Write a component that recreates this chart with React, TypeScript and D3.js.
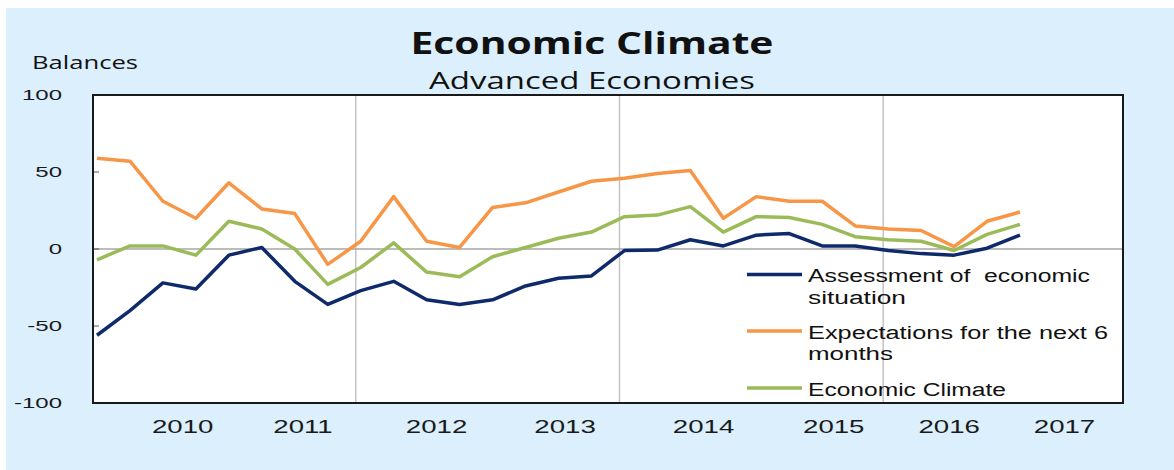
import { useEffect, useRef } from 'react';
import * as d3 from 'd3';

// Quarterly balances, first observation on the left edge of the plot
const assessment = [-56, -40, -22, -26, -4, 1, -21, -36, -27, -21, -33, -36, -33, -24, -19, -17.5, -1, -0.7, 6, 2, 9, 10, 2, 2, -1, -3, -4, 0.5, 9];
const expectations = [59, 57, 31, 20, 43, 26, 23, -10, 5, 34, 5, 1, 27, 30, 37, 44, 46, 49, 51, 20, 34, 31, 31, 15, 13, 12, 1.5, 18, 24];
const climate = [-7, 2, 2, -4, 18, 13, 0, -23, -12, 4, -15, -18, -5, 1, 7, 11, 21, 22, 27.5, 11, 21, 20.5, 16, 8, 6, 5, -1, 9.5, 16];

const yTicks = [100, 50, 0, -50, -100];
const yearLabels = ['2010', '2011', '2012', '2013', '2014', '2015', '2016', '2017'];
// where the year labels sit, in quarters from the first observation
const yearLabelAt = [2.6, 6.25, 10.3, 14.2, 18.4, 22.35, 25.85, 29.35];
// vertical gridlines (every 8 quarters)
const gridAt = [7.85, 15.85, 23.85];

const series = [
  { lines: ['Assessment of  economic', 'situation'], widths: [282, 98], values: assessment, color: '#0f2a6b' },
  { lines: ['Expectations for the next 6', 'months'], widths: [300, 85], values: expectations, color: '#f79646' },
  { lines: ['Economic Climate'], widths: [198], values: climate, color: '#9bbb59' },
];

const W = 1174;
const H = 470;

export default function App() {
  const svgRef = useRef<SVGSVGElement>(null);

  useEffect(() => {
    if (!svgRef.current) return;
    const svg = d3.select(svgRef.current);
    svg.selectAll('*').remove();

    const plot = { left: 93, right: 1123, top: 95, bottom: 403 };

    // background
    svg.append('rect').attr('x', 6).attr('y', 8).attr('width', W - 6).attr('height', H - 8).attr('fill', '#dbeffc');
    svg.append('rect')
      .attr('x', plot.left).attr('y', plot.top)
      .attr('width', plot.right - plot.left).attr('height', plot.bottom - plot.top)
      .attr('fill', '#ffffff');

    const x = d3.scaleLinear().domain([0, assessment.length - 1]).range([97, 1020]);
    const y = d3.scaleLinear().domain([-100, 100]).range([plot.bottom, plot.top]);

    // gridlines
    svg.append('g')
      .selectAll('line')
      .data(gridAt)
      .join('line')
      .attr('x1', (d) => x(d)).attr('x2', (d) => x(d))
      .attr('y1', plot.top).attr('y2', plot.bottom)
      .attr('stroke', '#c4c4c4').attr('stroke-width', 1.5);

    svg.append('line')
      .attr('x1', plot.left).attr('x2', plot.right)
      .attr('y1', y(0)).attr('y2', y(0))
      .attr('stroke', '#a6a6a6').attr('stroke-width', 1.5);

    // inward ticks on the value axis
    svg.append('g')
      .selectAll('line')
      .data(yTicks)
      .join('line')
      .attr('x1', plot.left).attr('x2', plot.left + 6)
      .attr('y1', (d) => y(d)).attr('y2', (d) => y(d))
      .attr('stroke', '#595959').attr('stroke-width', 1);

    // series
    const line = d3.line<number>().x((_, i) => x(i)).y((d) => y(d));
    series.forEach((s) => {
      svg.append('path')
        .datum(s.values)
        .attr('d', line)
        .attr('fill', 'none')
        .attr('stroke', s.color)
        .attr('stroke-width', 3.5)
        .attr('stroke-linejoin', 'round');
    });

    // frame
    svg.append('rect')
      .attr('x', plot.left).attr('y', plot.top)
      .attr('width', plot.right - plot.left).attr('height', plot.bottom - plot.top)
      .attr('fill', 'none').attr('stroke', '#1a1a1a').attr('stroke-width', 2);

    // y labels
    svg.append('g')
      .selectAll('text')
      .data(yTicks)
      .join('text')
      .attr('transform', (d) => `translate(62,${y(d)}) scale(1.6,1)`)
      .attr('dy', '0.36em')
      .attr('text-anchor', 'end')
      .attr('font-family', '"Liberation Sans", Arial, sans-serif')
      .attr('font-size', 15)
      .attr('fill', '#1a1a1a')
      .text((d) => String(d));

    // x labels
    svg.append('g')
      .selectAll('text')
      .data(yearLabels)
      .join('text')
      .attr('transform', (d, i) => `translate(${x(yearLabelAt[i])},433) scale(1.58,1)`)
      .attr('text-anchor', 'middle')
      .attr('font-family', '"Liberation Sans", Arial, sans-serif')
      .attr('font-size', 17.5)
      .attr('fill', '#1a1a1a')
      .text((d) => d);

    // titles
    const txt = (t: string, tx: number, ty: number, size: number, len: number, anchor = 'start', weight = 'normal', family = '"Open Sans", sans-serif') =>
      svg.append('text')
        .attr('x', tx).attr('y', ty)
        .attr('text-anchor', anchor)
        .attr('font-family', family)
        .attr('font-size', size)
        .attr('font-weight', weight)
        .attr('fill', '#111')
        .attr('textLength', len)
        .attr('lengthAdjust', 'spacingAndGlyphs')
        .style('white-space', 'pre')
        .text(t);

    txt('Economic Climate', 592, 54, 29.5, 363, 'middle', 'bold');
    txt('Advanced Economies', 592, 89, 23, 326, 'middle');
    txt('Balances', 32, 69, 18.5, 106);

    // legend
    const legendY = [274.5, 331, 388];
    series.forEach((s, i) => {
      svg.append('line')
        .attr('x1', 747).attr('x2', 802)
        .attr('y1', legendY[i]).attr('y2', legendY[i])
        .attr('stroke', s.color).attr('stroke-width', 3.5);
      s.lines.forEach((l, j) => {
        txt(l, 808, legendY[i] + 7.5 + j * 21.5, 18, s.widths[j], 'start', 'normal', '"Liberation Sans", Arial, sans-serif');
      });
    });
  }, []);

  return (
    <svg
      ref={svgRef}
      width={W}
      height={H}
      style={{ position: 'absolute', left: 0, top: 0, background: '#fff' }}
    />
  );
}
